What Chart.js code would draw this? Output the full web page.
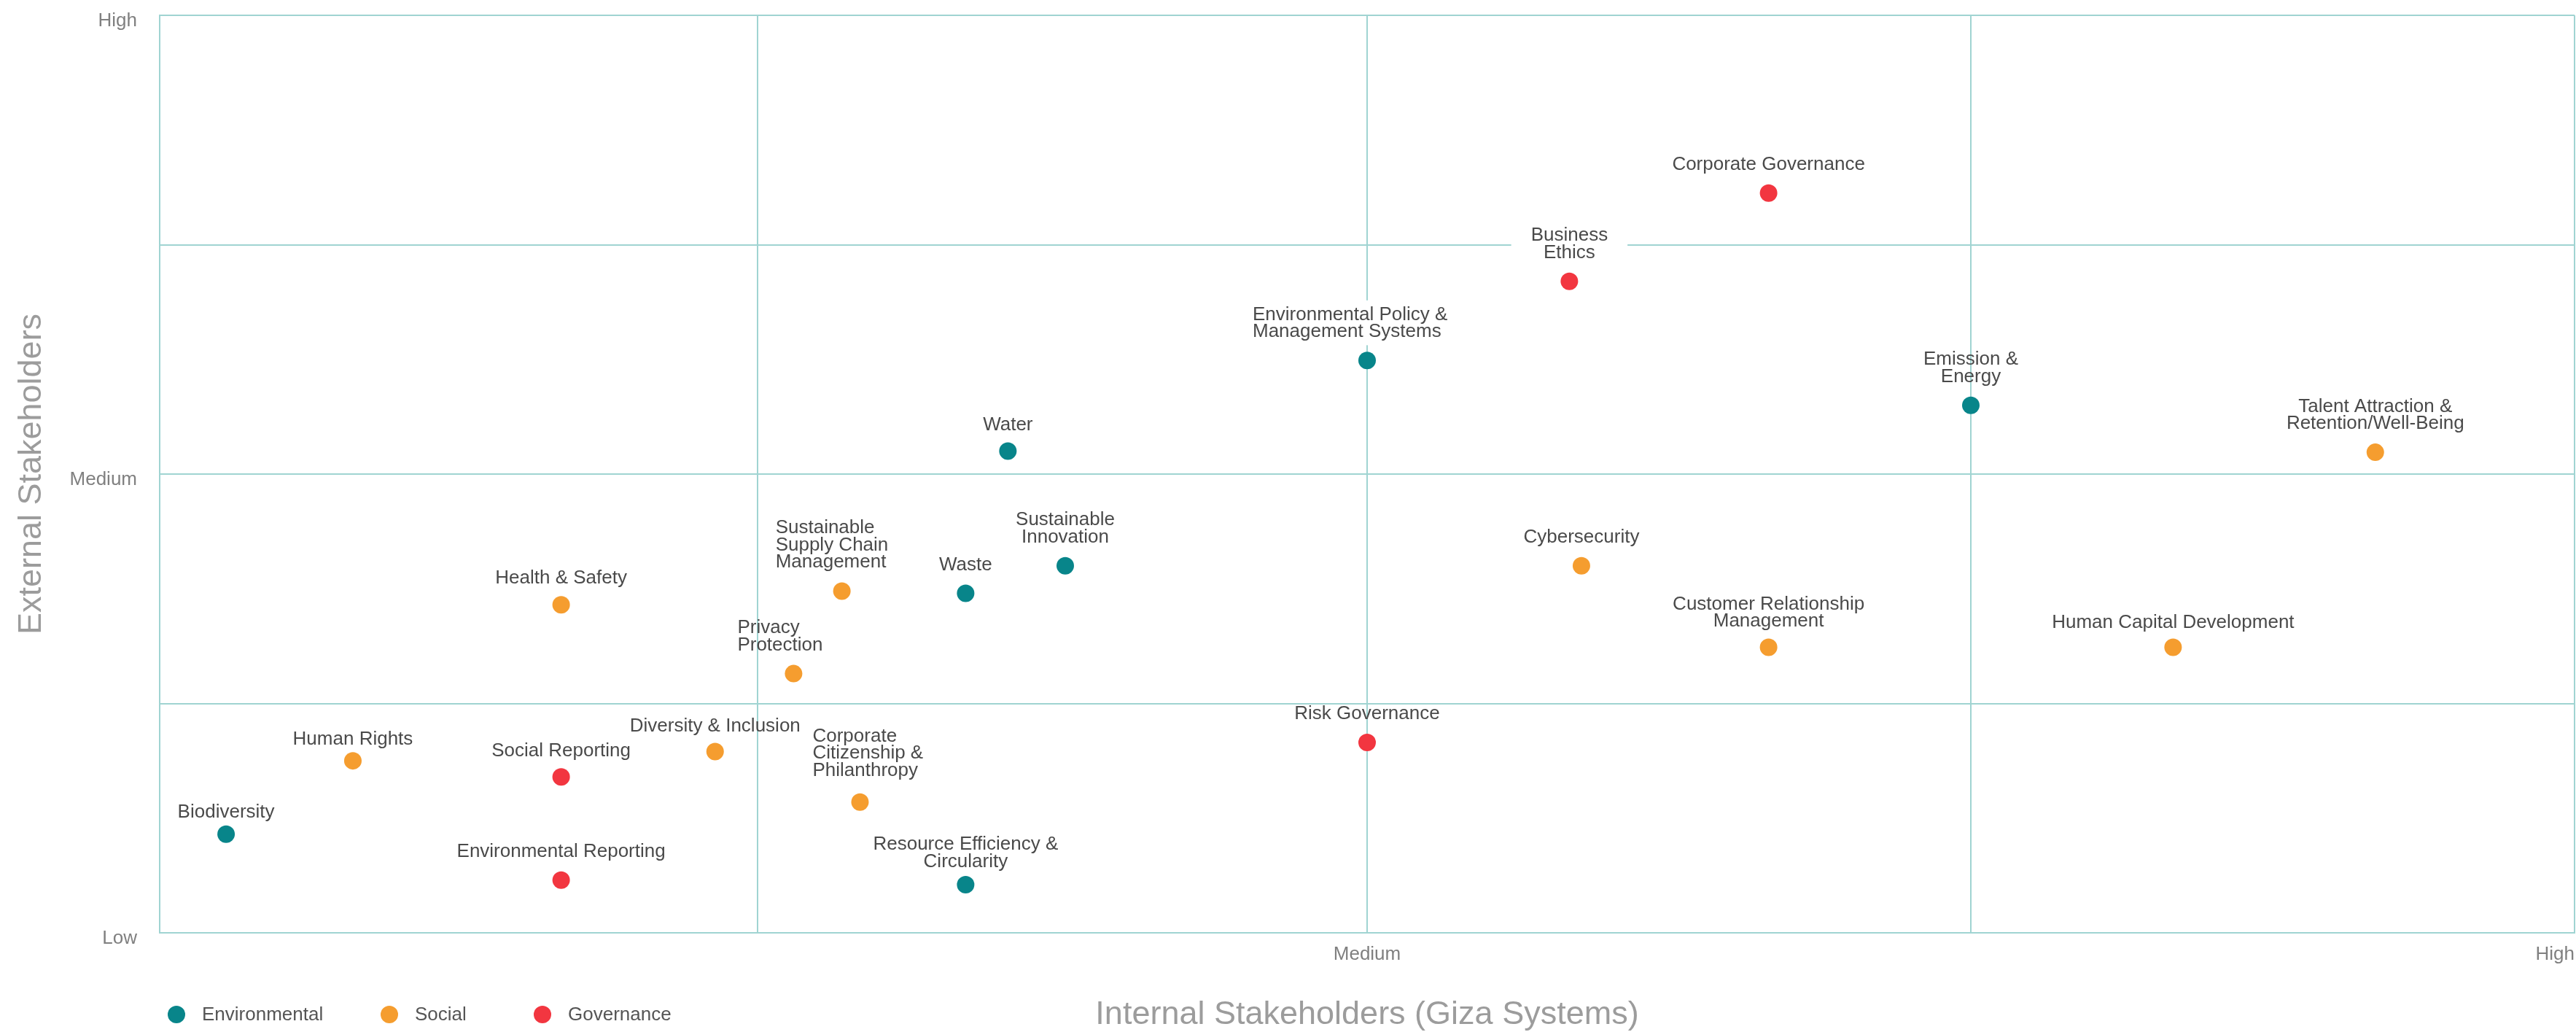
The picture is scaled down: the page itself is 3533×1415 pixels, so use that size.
<!DOCTYPE html>
<html>
<head>
<meta charset="utf-8">
<script src="https://cdn.jsdelivr.net/npm/chart.js@4.4.1/dist/chart.umd.min.js"></script>
<style>
html,body{margin:0;padding:0;background:#ffffff;}
#wrap{width:3533px;height:1415px;position:relative;}
</style>
</head>
<body>
<div id="wrap"><canvas id="c" width="3533" height="1415"></canvas></div>
<script>
// ---------------- DATA ----------------
const seriesNames = ["Environmental", "Social", "Governance"];
const seriesColors = ["#08858A", "#F59D2F", "#F23640"];

const topics = [
  "Biodiversity",
  "Human Rights",
  "Health & Safety",
  "Social Reporting",
  "Environmental Reporting",
  "Diversity & Inclusion",
  "Privacy\nProtection",
  "Sustainable\nSupply Chain\nManagement",
  "Corporate\nCitizenship &\nPhilanthropy",
  "Waste",
  "Resource Efficiency &\nCircularity",
  "Water",
  "Sustainable\nInnovation",
  "Environmental Policy &\nManagement Systems",
  "Risk Governance",
  "Business\nEthics",
  "Cybersecurity",
  "Corporate Governance",
  "Customer Relationship\nManagement",
  "Emission &\nEnergy",
  "Human Capital Development",
  "Talent Attraction &\nRetention/Well-Being"
];
const pillars = [
  "Environmental", "Social", "Social", "Governance", "Governance",
  "Social", "Social", "Social", "Social", "Environmental",
  "Environmental", "Environmental", "Environmental", "Environmental", "Governance",
  "Governance", "Social", "Governance", "Social", "Environmental",
  "Social", "Social"
];
// Internal stakeholders (x): 0 = Low, 2 = Medium, 4 = High
const internalScores = [
  0.11, 0.32, 0.665, 0.665, 0.665,
  0.92, 1.05, 1.13, 1.16, 1.335,
  1.335, 1.405, 1.50, 2.00, 2.00,
  2.335, 2.355, 2.665, 2.665, 3.00,
  3.335, 3.67
];
// External stakeholders (y): 0 = Low, 2 = Medium, 4 = High
const externalScores = [
  0.43, 0.75, 1.43, 0.68, 0.23,
  0.79, 1.13, 1.49, 0.57, 1.48,
  0.21, 2.10, 1.60, 2.495, 0.83,
  2.84, 1.60, 3.225, 1.245, 2.30,
  1.245, 2.095
];
const xGridValues = [0, 0.99, 2, 3, 4];
const xTickLabels = ["", "", "Medium", "", "High"];
const yTickLabels = ["Low", "", "Medium", "", "High"];
const xTitle = "Internal Stakeholders (Giza Systems)";
const yTitle = "External Stakeholders";

// ---------------- STYLE / LAYOUT ----------------
const FONT = "'Liberation Sans', Arial, Helvetica, sans-serif";
const GRID = "#A0D4D2";
const labelLayout = {
  "Privacy\nProtection": { align: "left", dx: -77 },
  "Sustainable\nSupply Chain\nManagement": { align: "left", dx: -91 },
  "Corporate\nCitizenship &\nPhilanthropy": { align: "left", dx: -65, dy: -4 },
  "Environmental Policy &\nManagement Systems": { align: "left", dx: -157, mask: true },
  "Business\nEthics": { mask: true },
  "Human Rights": { dy: 10 },
  "Biodiversity": { dy: 9 },
  "Resource Efficiency &\nCircularity": { dy: 8 },
  "Human Capital Development": { dy: 6 },
  "Customer Relationship\nManagement": { dy: 4 },
  "Health & Safety": { dy: 3 },
  "Water": { dy: 3 },
  "Diversity & Inclusion": { dy: 4 },
  "Social Reporting": { dy: 4 }
};

const datasets = seriesNames.map((name, si) => ({
  label: name,
  data: topics.map((t, i) => ({ x: internalScores[i], y: externalScores[i], label: t, p: pillars[i] }))
              .filter(d => d.p === name),
  backgroundColor: seriesColors[si],
  borderColor: seriesColors[si],
  borderWidth: 0,
  pointRadius: 12,
  pointHoverRadius: 12
}));

const pointLabels = {
  id: "pointLabels",
  afterDatasetsDraw(chart, args, opts) {
    const ctx = chart.ctx;
    ctx.save();
    ctx.font = opts.size + "px " + FONT;
    ctx.textBaseline = "alphabetic";
    chart.data.datasets.forEach((ds, di) => {
      const meta = chart.getDatasetMeta(di);
      meta.data.forEach((pt, i) => {
        const name = ds.data[i].label;
        const lines = name.split("\n");
        const lay = labelLayout[name] || {};
        const lastBase = pt.y - opts.gap + (lay.dy || 0);
        const firstBase = lastBase - (lines.length - 1) * opts.lineHeight;
        const widths = lines.map(l => ctx.measureText(l).width);
        const maxW = Math.max.apply(null, widths);
        const left = lay.align === "left" ? pt.x + lay.dx : pt.x - maxW / 2;
        if (lay.mask) {
          ctx.fillStyle = "#ffffff";
          ctx.fillRect(left - 27, firstBase - 27, maxW + 54, (lastBase + 11) - (firstBase - 27));
        }
        ctx.fillStyle = opts.color;
        lines.forEach((l, k) => {
          const x = lay.align === "left" ? left : pt.x - widths[k] / 2;
          ctx.fillText(l, x, firstBase + k * opts.lineHeight);
        });
      });
    });
    ctx.restore();
  }
};

const bottomLegend = {
  id: "bottomLegend",
  afterDraw(chart, args, opts) {
    const ctx = chart.ctx;
    ctx.save();
    ctx.font = opts.size + "px " + FONT;
    ctx.textBaseline = "middle";
    chart.data.datasets.forEach((ds, i) => {
      const x = opts.itemX[i];
      ctx.fillStyle = ds.backgroundColor;
      ctx.beginPath();
      ctx.arc(x, opts.y, opts.radius, 0, Math.PI * 2);
      ctx.fill();
      ctx.fillStyle = opts.color;
      ctx.fillText(ds.label, x + opts.textGap, opts.y + 1);
    });
    ctx.restore();
  }
};

function noScalePadding(s) {
  s.paddingTop = 0; s.paddingBottom = 0; s.paddingLeft = 0; s.paddingRight = 0;
}

new Chart(document.getElementById("c"), {
  type: "scatter",
  data: { datasets: datasets },
  plugins: [pointLabels, bottomLegend],
  options: {
    responsive: false,
    animation: false,
    events: [],
    layout: { autoPadding: false, padding: { top: 21, right: 2, left: 0, bottom: 0 } },
    plugins: {
      legend: { display: false },
      tooltip: { enabled: false },
      pointLabels: { size: 26, color: "#4a4a4a", gap: 32, lineHeight: 23.5 },
      bottomLegend: { size: 26, color: "#555555", y: 1391, radius: 12, textGap: 35, itemX: [242, 534, 744] }
    },
    scales: {
      x: {
        type: "linear",
        min: 0, max: 4,
        afterBuildTicks(s) { s.ticks = xGridValues.map(v => ({ value: v })); },
        ticks: {
          autoSkip: false, align: "inner", padding: 14,
          color: "#808080", font: { size: 26, family: FONT },
          callback: (v, i) => xTickLabels[i]
        },
        grid: { color: GRID, lineWidth: 2, drawTicks: false },
        border: { display: true, color: GRID, width: 2 },
        title: { display: true, text: xTitle, color: "#9c9c9c", font: { size: 45, family: FONT }, padding: { top: 0, bottom: -4 } },
        afterFit(s) { s.height = 136; noScalePadding(s); }
      },
      y: {
        type: "linear",
        min: 0, max: 4,
        ticks: {
          stepSize: 1, autoSkip: false, padding: 31, labelOffset: 8,
          color: "#808080", font: { size: 26, family: FONT },
          callback: v => yTickLabels[v]
        },
        grid: { color: GRID, lineWidth: 2, drawTicks: false },
        border: { display: true, color: GRID, width: 2 },
        title: { display: true, text: yTitle, color: "#9c9c9c", font: { size: 45, family: FONT }, padding: { top: 17, bottom: 0 } },
        afterFit(s) { s.width = 219; noScalePadding(s); }
      }
    }
  }
});
</script>
</body>
</html>
